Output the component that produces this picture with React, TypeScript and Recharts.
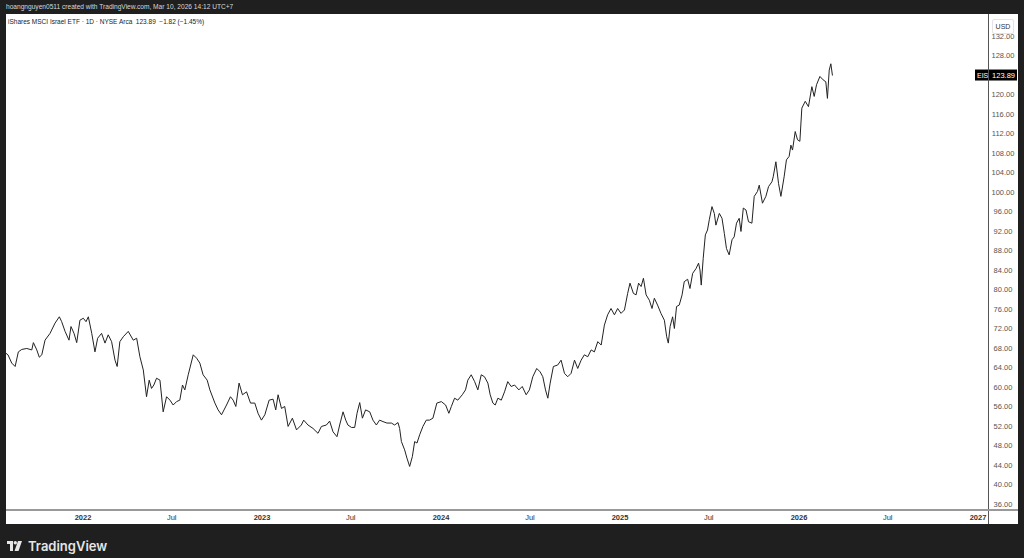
import { LineChart, Line, XAxis, YAxis, ReferenceLine } from 'recharts'

// decimal years (x) and closes
const dates = [
  2021.570, 2021.581, 2021.602, 2021.621, 2021.639, 2021.658, 2021.686, 2021.714, 2021.723, 2021.742,
  2021.756, 2021.770, 2021.788, 2021.816, 2021.844, 2021.868, 2021.881, 2021.900, 2021.922, 2021.933,
  2021.950, 2021.965, 2021.983, 2022.002, 2022.017, 2022.030, 2022.049, 2022.067, 2022.082, 2022.104,
  2022.123, 2022.141, 2022.160, 2022.179, 2022.191, 2022.206, 2022.225, 2022.253, 2022.281, 2022.300,
  2022.318, 2022.337, 2022.355, 2022.370, 2022.383, 2022.396, 2022.411, 2022.430, 2022.448, 2022.467,
  2022.486, 2022.504, 2022.523, 2022.541, 2022.556, 2022.569, 2022.588, 2022.616, 2022.635, 2022.653,
  2022.671, 2022.694, 2022.709, 2022.737, 2022.755, 2022.774, 2022.802, 2022.824, 2022.839, 2022.854,
  2022.872, 2022.891, 2022.914, 2022.936, 2022.960, 2022.978, 2022.997, 2023.016, 2023.040, 2023.062,
  2023.077, 2023.090, 2023.109, 2023.127, 2023.146, 2023.170, 2023.193, 2023.220, 2023.233, 2023.257,
  2023.285, 2023.313, 2023.332, 2023.360, 2023.378, 2023.397, 2023.419, 2023.434, 2023.453, 2023.468,
  2023.480, 2023.500, 2023.518, 2023.531, 2023.546, 2023.561, 2023.579, 2023.602, 2023.620, 2023.639,
  2023.657, 2023.676, 2023.698, 2023.723, 2023.741, 2023.760, 2023.769, 2023.779, 2023.797, 2023.810,
  2023.825, 2023.840, 2023.853, 2023.866, 2023.881, 2023.899, 2023.918, 2023.936, 2023.955, 2023.977,
  2024.002, 2024.026, 2024.044, 2024.058, 2024.076, 2024.094, 2024.119, 2024.137, 2024.150, 2024.169,
  2024.188, 2024.206, 2024.225, 2024.243, 2024.262, 2024.275, 2024.290, 2024.303, 2024.318, 2024.337,
  2024.355, 2024.373, 2024.392, 2024.411, 2024.435, 2024.454, 2024.476, 2024.494, 2024.513, 2024.535,
  2024.554, 2024.569, 2024.584, 2024.597, 2024.610, 2024.628, 2024.652, 2024.671, 2024.690, 2024.708,
  2024.727, 2024.746, 2024.764, 2024.783, 2024.801, 2024.820, 2024.839, 2024.857, 2024.876, 2024.895,
  2024.913, 2024.931, 2024.950, 2024.969, 2024.987, 2025.006, 2025.025, 2025.043, 2025.056, 2025.075,
  2025.090, 2025.104, 2025.118, 2025.131, 2025.146, 2025.164, 2025.179, 2025.192, 2025.210, 2025.229,
  2025.248, 2025.261, 2025.270, 2025.280, 2025.294, 2025.304, 2025.316, 2025.331, 2025.347, 2025.359,
  2025.378, 2025.391, 2025.406, 2025.425, 2025.439, 2025.447, 2025.454, 2025.465, 2025.477, 2025.489,
  2025.499, 2025.514, 2025.527, 2025.536, 2025.555, 2025.570, 2025.583, 2025.595, 2025.610, 2025.626,
  2025.638, 2025.651, 2025.666, 2025.676, 2025.689, 2025.704, 2025.718, 2025.737, 2025.750, 2025.768,
  2025.778, 2025.796, 2025.815, 2025.830, 2025.849, 2025.856, 2025.871, 2025.886, 2025.899, 2025.917,
  2025.930, 2025.945, 2025.955, 2025.964, 2025.979, 2025.992, 2026.005, 2026.016, 2026.035, 2026.053,
  2026.072, 2026.085, 2026.098, 2026.117, 2026.135, 2026.150, 2026.159, 2026.169, 2026.178, 2026.187,
]

const closes = [
  66.9, 66.6, 64.9, 64.2, 67.2, 67.7, 67.9, 67.6, 69.1, 67.6,
  66.1, 66.6, 69.6, 71.0, 73.1, 74.4, 73.4, 71.4, 69.6, 72.4,
  71.0, 69.1, 73.7, 74.1, 73.4, 74.4, 71.0, 67.2, 70.0, 71.0,
  69.0, 70.7, 69.3, 65.5, 64.2, 69.3, 70.3, 71.4, 69.6, 70.0,
  66.2, 63.5, 58.0, 61.4, 59.7, 60.4, 61.8, 61.4, 54.9, 58.0,
  57.3, 56.3, 57.0, 57.3, 60.4, 59.4, 62.5, 66.6, 65.9, 64.9,
  62.5, 61.4, 59.4, 56.7, 55.3, 54.3, 56.3, 58.0, 57.3, 56.0,
  60.8, 58.4, 59.0, 56.7, 56.7, 54.6, 53.2, 54.3, 57.3, 57.5,
  55.3, 58.4, 55.6, 56.0, 51.9, 53.6, 51.2, 52.2, 53.2, 52.2,
  51.5, 50.5, 51.9, 52.2, 53.0, 50.8, 49.8, 52.2, 54.9, 53.2,
  52.2, 51.7, 51.7, 54.6, 56.8, 53.6, 55.3, 54.9, 53.2, 52.2,
  53.2, 52.9, 52.6, 52.6, 52.2, 52.7, 51.5, 48.8, 47.1, 45.4,
  43.7, 45.7, 48.8, 48.5, 50.2, 51.9, 53.2, 53.2, 53.6, 56.7,
  57.0, 56.3, 54.6, 56.0, 57.7, 57.3, 58.4, 59.4, 61.4, 62.5,
  61.1, 59.4, 62.5, 62.1, 60.8, 58.4, 56.7, 56.3, 57.7, 57.3,
  59.0, 61.1, 60.1, 60.4, 59.4, 60.1, 58.4, 59.4, 62.1, 63.8,
  63.1, 62.1, 59.4, 57.7, 60.8, 64.2, 64.5, 65.5, 62.8, 62.1,
  62.8, 65.5, 63.8, 65.5, 66.6, 66.2, 67.6, 67.2, 69.3, 68.6,
  72.7, 74.8, 76.1, 74.8, 76.1, 75.1, 75.8, 79.2, 81.3, 79.2,
  78.9, 81.3, 80.6, 82.3, 78.9, 77.8, 76.1, 78.2, 76.8, 75.1,
  73.7, 70.3, 69.0, 72.4, 74.4, 72.0, 76.5, 76.8, 78.9, 81.6,
  82.1, 80.2, 83.3, 84.3, 85.4, 84.0, 80.9, 86.4, 91.2, 92.2,
  94.3, 97.0, 95.6, 93.2, 95.6, 94.6, 91.5, 88.4, 87.1, 90.2,
  90.8, 93.6, 94.6, 91.9, 96.7, 96.3, 93.9, 93.6, 99.1, 100.1,
  101.4, 97.7, 99.1, 101.1, 102.1, 103.1, 106.2, 101.7, 99.1, 103.1,
  106.6, 107.3, 109.6, 108.6, 112.4, 110.7, 110.4, 117.2, 118.6, 117.5,
  121.6, 119.6, 122.0, 123.7, 123.0, 122.6, 119.2, 125.0, 126.3, 123.89,
]

const timeTicks = [2022, 2022.496, 2023, 2023.496, 2024, 2024.497, 2025, 2025.496, 2026, 2026.496, 2027]
const timeLabels = ['2022', 'Jul', '2023', 'Jul', '2024', 'Jul', '2025', 'Jul', '2026', 'Jul', '2027']
const priceTicks = [36, 40, 44, 48, 52, 56, 60, 64, 68, 72, 76, 80, 84, 88, 92, 96, 100, 104, 108, 112, 116, 120, 124, 128, 132]

const data = dates.map((t, i) => ({ t, close: closes[i] }))
const last = closes[closes.length - 1]

const FONT = '"Liberation Sans", Arial, sans-serif'

function TimeTick({ x, y, index }: any) {
  const label = timeLabels[index] ?? ''
  const isYear = label !== 'Jul'
  return (
    <text x={x} y={y + 11} textAnchor="middle" fontSize={7.5} fontFamily={FONT}
      fontWeight={isYear ? 700 : 400} fill="#333">{label}</text>
  )
}

function PriceTick({ x, y, payload }: any) {
  if (payload.value === 124) return null
  return (
    <text x={x + 15} y={y + 3} textAnchor="middle" fontSize={7.5} fontFamily={FONT} fill="#555">
      {payload.value.toFixed(2)}
    </text>
  )
}

function LastLabel({ viewBox }: any) {
  const right = viewBox.x + viewBox.width
  const cy = viewBox.y
  return (
    <g>
      <rect x={right - 13} y={cy - 6} width={42} height={11} fill="#000" />
      <text x={right - 11} y={cy + 2.5} fontSize={7} fontFamily={FONT} fill="#fff">EIS</text>
      <text x={right + 27} y={cy + 2.5} textAnchor="end" fontSize={7.5} fontFamily={FONT} fill="#fff">{last.toFixed(2)}</text>
    </g>
  )
}

export default function App() {
  return (
    <div style={{ position: 'fixed', left: 0, top: 0, width: 1024, height: 558, background: '#1f1f1f', fontFamily: FONT, overflow: 'hidden' }}>
      <div style={{ position: 'absolute', left: 6, top: 3, fontSize: 6.6, color: '#d8d8d8', whiteSpace: 'nowrap' }}>
        hoangnguyen0511 created with TradingView.com, Mar 10, 2026 14:12 UTC+7
      </div>
      <div style={{ position: 'absolute', left: 6, top: 14, width: 1012, height: 510, background: '#fff' }}>
        <LineChart width={1012} height={510} data={data} margin={{ top: 0, right: 0, left: 0, bottom: 0 }}>
          <XAxis dataKey="t" type="number" domain={[2021.57, 2027.056]} ticks={timeTicks} allowDataOverflow
            axisLine={false} tickLine={false} tickSize={0} tickMargin={0} height={15} tick={<TimeTick />} interval={0} />
          <YAxis orientation="right" type="number" domain={[34.97, 136.51]} ticks={priceTicks} allowDataOverflow
            axisLine={false} tickLine={false} tickSize={0} tickMargin={0} width={30} tick={<PriceTick />} interval={0} />
          <Line type="linear" dataKey="close" stroke="#222" strokeWidth={1} dot={false} isAnimationActive={false} />
          <ReferenceLine y={last} stroke="none" label={<LastLabel />} />
        </LineChart>
        <div style={{ position: 'absolute', left: 2, top: 4, fontSize: 6.5, color: '#222', whiteSpace: 'nowrap' }}>
          iShares MSCI Israel ETF · 1D · NYSE Arca&nbsp;&nbsp;123.89&nbsp;&nbsp;−1.82 (−1.45%)
        </div>
        <div style={{ position: 'absolute', left: 982, top: 0, width: 1, height: 510, background: '#555' }} />
        <div style={{ position: 'absolute', left: 0, top: 495, width: 1012, height: 1.5, background: '#999' }} />
        <div style={{ position: 'absolute', left: 986, top: 5, width: 20, height: 13, background: '#fff', border: '1px solid #e4e4e4', borderRadius: 2, fontSize: 7, color: '#333', textAlign: 'center', lineHeight: '13px' }}>
          USD
        </div>
      </div>
      <div style={{ position: 'absolute', left: 7, top: 538, display: 'flex', alignItems: 'center', gap: 6 }}>
        <svg width={15} height={10} viewBox="0 0 15 10">
          <path d="M0 0 H6 V10 H3 V3 H0 Z" fill="#e6e6e6" />
          <circle cx={8.3} cy={1.7} r={1.7} fill="#e6e6e6" />
          <path d="M11 0 H15 L11.5 10 H7.5 Z" fill="#e6e6e6" />
        </svg>
        <span style={{ fontSize: 13, color: '#e6e6e6', fontWeight: 600, fontFamily: 'Inter, sans-serif' }}>TradingView</span>
      </div>
    </div>
  )
}
